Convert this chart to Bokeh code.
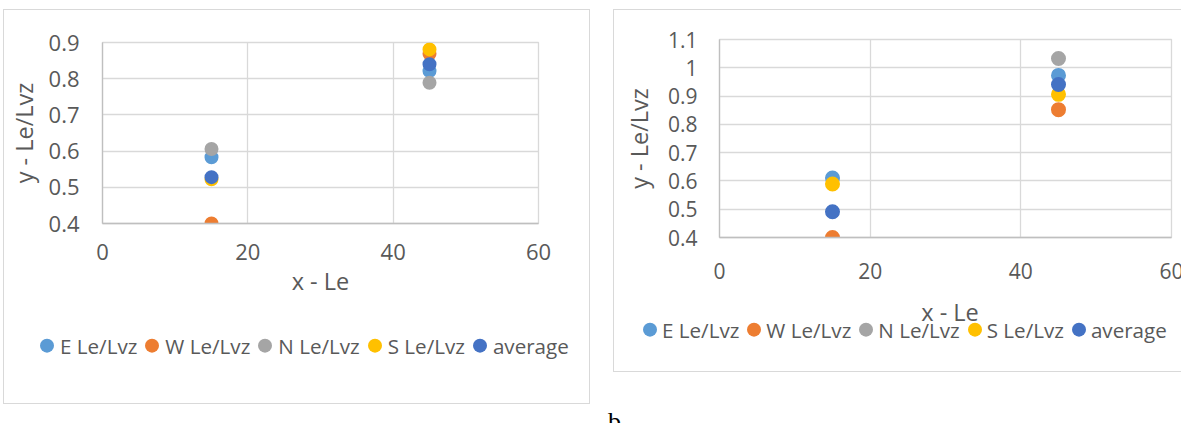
from bokeh.plotting import figure
from bokeh.models import Range1d, FixedTicker, CustomJSTickFormatter, Div
from bokeh.layouts import row, column
from bokeh.embed import file_html
from bokeh.resources import INLINE

# ---------------- data ----------------
series_names = ["E Le/Lvz", "W Le/Lvz", "N Le/Lvz", "S Le/Lvz", "average"]
series_colors = ["#5B9BD5", "#ED7D31", "#A5A5A5", "#FFC000", "#4472C4"]
x_le = [15, 45]

# chart a
a_E = [0.583, 0.821]
a_W = [0.400, 0.869]
a_N = [0.606, 0.789]
a_S = [0.522, 0.881]
a_avg = [0.528, 0.840]

# chart b
b_E = [0.610, 0.973]
b_W = [0.400, 0.852]
b_N = [0.364, 1.033]
b_S = [0.589, 0.906]
b_avg = [0.491, 0.941]

x_ticks = [0, 20, 40, 60]
a_y_ticks = [0.4, 0.5, 0.6, 0.7, 0.8, 0.9]
b_y_ticks = [0.4, 0.5, 0.6, 0.7, 0.8, 0.9, 1.0, 1.1]

x_title = "x - Le"
y_title = "y - Le/Lvz"

FONT = "Open Sans"
TXT = "#595959"


def make_chart(series, y_ticks, width, height, mb, marker_size, tick_fs,
               xstand, xlabstand, ystand, ylabstand, with_xtitle):
    p = figure(width=width, height=height, output_backend="svg", toolbar_location=None,
               x_range=Range1d(x_ticks[0], x_ticks[-1]),
               y_range=Range1d(y_ticks[0], y_ticks[-1]),
               min_border_left=mb[0], min_border_right=mb[1],
               min_border_top=mb[2], min_border_bottom=mb[3],
               background_fill_color="white", border_fill_color="white")
    p.outline_line_color = "#D9D9D9"
    p.outline_line_width = 1.3

    p.xaxis.ticker = FixedTicker(ticks=x_ticks)
    p.yaxis.ticker = FixedTicker(ticks=y_ticks)
    p.xgrid.ticker = FixedTicker(ticks=x_ticks)
    p.ygrid.ticker = FixedTicker(ticks=y_ticks)
    p.yaxis.formatter = CustomJSTickFormatter(
        code="return tick.toFixed(1).replace(/\\.0$/, '');")

    for g in (p.xgrid, p.ygrid):
        g.grid_line_color = "#D9D9D9"
        g.grid_line_width = 1.3

    for ax in (p.xaxis, p.yaxis):
        ax.axis_line_color = "#BFBFBF"
        ax.axis_line_width = 1.3
        ax.major_tick_in = 0
        ax.major_tick_out = 0
        ax.minor_tick_in = 0
        ax.minor_tick_out = 0
        ax.major_label_text_font = FONT
        ax.major_label_text_font_size = tick_fs
        ax.major_label_text_color = TXT
        ax.axis_label_text_font = FONT
        ax.axis_label_text_font_size = "23.5px"
        ax.axis_label_text_color = TXT
        ax.axis_label_text_font_style = "normal"

    if with_xtitle:
        p.xaxis.axis_label = x_title
        p.xaxis.axis_label_standoff = xlabstand
    p.yaxis.axis_label = y_title
    p.xaxis.major_label_standoff = xstand
    p.yaxis.major_label_standoff = ystand
    p.yaxis.axis_label_standoff = ylabstand

    for name, color, ys in zip(series_names, series_colors, series):
        p.scatter(x_le, ys, size=marker_size, fill_color=color, line_color=color,
                  line_width=0, legend_label=None) if False else \
            p.scatter(x_le, ys, size=marker_size, fill_color=color, line_color=color,
                      line_width=0)
    return p


def legend_html(left, top, gap_text, gap_item):
    parts = []
    for name, color in zip(series_names, series_colors):
        parts.append(
            f'<span style="display:inline-block;width:14px;height:14px;border-radius:50%;'
            f'background:{color};margin-right:{gap_text}px;flex:none"></span>'
            f'<span style="margin-right:{gap_item}px">{name}</span>')
    return (f'<div style="position:absolute;left:{left}px;top:{top}px;'
            f'transform:translateY(-50%);display:flex;align-items:center;'
            f'white-space:nowrap;font-family:\'Open Sans\';font-size:20.6px;'
            f'line-height:1.2;color:{TXT}">' + "".join(parts) + '</div>')


# ---- chart a ----
pa = make_chart([a_E, a_W, a_N, a_S, a_avg], a_y_ticks, 575, 300,
                (96, 41, 32, 87), 14, "22px", 20, 2, 23, 6, True)
leg_a = Div(text='<div style="position:relative;width:575px;height:83px">'
                 + legend_html(31, 31, 6, 8) + '</div>',
            width=575, height=83)
block_a = column(pa, leg_a, spacing=0,
                 styles={"border": "1px solid #D9D9D9", "background": "white"})

# ---- chart b ----
pb = make_chart([b_E, b_W, b_N, b_S, b_avg], b_y_ticks, 576, 280,
                (105, 19, 29, 53), 15, "21px", 25, 10, 22, 10, False)
xt_b = (f'<div style="position:absolute;left:331px;top:17px;'
        f'transform:translate(-50%,-50%);white-space:nowrap;font-family:\'Open Sans\';'
        f'font-size:23.5px;line-height:1.2;color:{TXT}">{x_title}</div>')
leg_b = Div(text='<div style="position:relative;width:576px;height:71px">'
                 + xt_b + legend_html(24, 35, 5, 8) + '</div>',
            width=576, height=71)
block_b = column(pb, leg_b, spacing=0,
                 styles={"border": "1px solid #D9D9D9", "border-right": "none",
                         "background": "white"})

lab = Div(text='<div style="font-family:\'Liberation Serif\';font-size:26px;'
               'line-height:0;color:#000;margin-left:-10px;margin-top:45px">b</div>',
          width=60, height=48)

layout = row(block_a, column(block_b, lab), spacing=23, margin=(9, 0, 0, 3))
layout.styles = {"background": "white"}

open("out.html", "w").write(file_html(layout, INLINE))
